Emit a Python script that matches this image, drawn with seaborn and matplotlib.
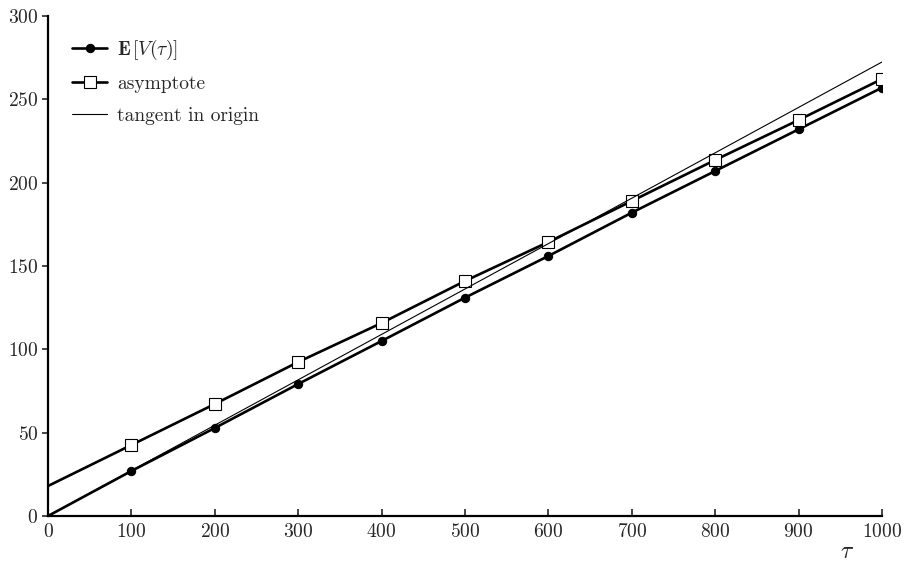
import matplotlib
matplotlib.use("Agg")
import matplotlib.pyplot as plt
import seaborn as sns
import pandas as pd

# Values of the expected value, its asymptote and the tangent in the origin
tau = [0, 100, 200, 300, 400, 500, 600, 700, 800, 900, 1000]
expected_v = [0, 27, 52.8, 79.2, 105, 131, 156, 182, 207, 232, 257]
asymptote = [18, 42.6, 67.2, 92.4, 115.8, 141, 164.4, 189, 213.6, 237.6, 262.2]
tangent_tau = [0, 1000]
tangent = [0, 272.4]
x_ticks = [0, 100, 200, 300, 400, 500, 600, 700, 800, 900, 1000]
y_ticks = [0, 50, 100, 150, 200, 250, 300]

sns.set_theme(style="ticks")
plt.rcParams["font.family"] = ["cmr10", "DejaVu Serif"]
plt.rcParams["mathtext.fontset"] = "cm"
plt.rcParams["axes.formatter.use_mathtext"] = True

fig = plt.figure(figsize=(9.05, 5.62), dpi=100)
ax = fig.add_axes([48 / 905, 46 / 562, 834 / 905, 500 / 562])

df = pd.DataFrame({"tau": tau, "ev": expected_v, "asym": asymptote})
tg = pd.DataFrame({"tau": tangent_tau, "tangent": tangent})

sns.lineplot(data=df, x="tau", y="ev", ax=ax, color="black", lw=1.9,
             marker="o", markersize=6, markevery=list(range(1, 11)),
             markeredgecolor="black", label=r"$\mathbf{E}\,[V(\tau)]$")
sns.lineplot(data=df, x="tau", y="asym", ax=ax, color="black", lw=1.9,
             marker="s", markersize=8, markevery=list(range(1, 11)),
             markerfacecolor="white", markeredgecolor="black",
             markeredgewidth=0.8, label="asymptote")
sns.lineplot(data=tg, x="tau", y="tangent", ax=ax, color="black", lw=0.8,
             label="tangent in origin")

ax.set_xlim(0, 1000)
ax.set_ylim(0, 300)
ax.set_xticks(x_ticks)
ax.set_yticks(y_ticks)
ax.tick_params(axis="x", direction="in", length=5, width=1.2, labelsize=14, pad=5)
ax.tick_params(axis="y", direction="out", length=4, width=1.2, labelsize=14, pad=3)
for s in ["top", "right"]:
    ax.spines[s].set_visible(False)
for s in ["left", "bottom"]:
    ax.spines[s].set_linewidth(1.6)
    ax.spines[s].set_color("black")

ax.set_xlabel("")
ax.set_ylabel("")
fig.text(847 / 905, 1 - 552 / 562, r"$\tau$", fontsize=17,
         ha="center", va="center")

ax.legend(loc="upper left", frameon=False, fontsize=14,
          handlelength=1.8, handletextpad=0.5, labelspacing=0.69,
          borderaxespad=0.0, bbox_to_anchor=(0.02, 0.972))

fig.savefig("out.png", dpi=100)
